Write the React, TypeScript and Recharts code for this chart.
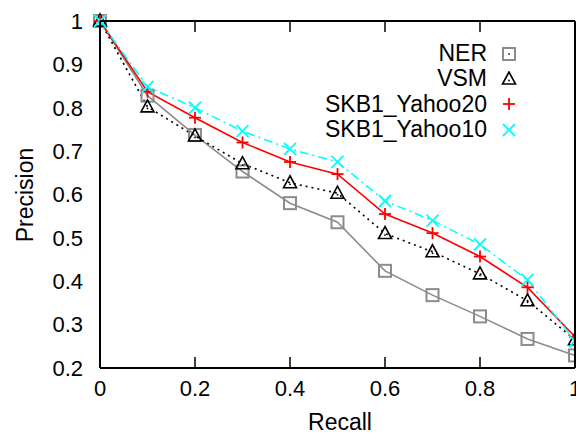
import { LineChart, Line, XAxis, YAxis } from 'recharts';

const recall = [0, 0.1, 0.2, 0.3, 0.4, 0.5, 0.6, 0.7, 0.8, 0.9, 1];
const ner = [1.0, 0.828, 0.737, 0.653, 0.58, 0.536, 0.424, 0.368, 0.319, 0.267, 0.229];
const vsm = [1.0, 0.802, 0.735, 0.671, 0.627, 0.603, 0.51, 0.468, 0.417, 0.355, 0.265];
const yahoo20 = [1.0, 0.837, 0.777, 0.72, 0.675, 0.647, 0.555, 0.511, 0.457, 0.386, 0.272];
const yahoo10 = [1.0, 0.848, 0.8, 0.746, 0.705, 0.675, 0.585, 0.54, 0.485, 0.403, 0.262];

const xTicks = [0, 0.2, 0.4, 0.6, 0.8, 1];
const yTicks = [0.2, 0.3, 0.4, 0.5, 0.6, 0.7, 0.8, 0.9, 1];

const data = recall.map((r, i) => ({
  recall: r,
  ner: ner[i],
  vsm: vsm[i],
  yahoo20: yahoo20[i],
  yahoo10: yahoo10[i],
}));

const FONT = '"Liberation Sans", Arial, sans-serif';
const MARGIN = { top: 20, right: 0, left: 0, bottom: 0 };

function Marker({ kind, cx, cy }: { kind: string; cx: number; cy: number }) {
  if (kind === 'square')
    return <rect x={cx - 6} y={cy - 6} width={12} height={12} fill="none" stroke="#8c8c8c" strokeWidth={2} />;
  if (kind === 'triangle')
    return (
      <g>
        <polygon points={`${cx},${cy - 7} ${cx - 6.5},${cy + 5} ${cx + 6.5},${cy + 5}`} fill="none" stroke="#000" strokeWidth={1.6} />
        <circle cx={cx} cy={cy + 1.5} r={0.9} fill="#000" />
      </g>
    );
  if (kind === 'plus')
    return (
      <g stroke="#ff0000" strokeWidth={1.8}>
        <line x1={cx - 6} y1={cy} x2={cx + 6} y2={cy} />
        <line x1={cx} y1={cy - 6} x2={cx} y2={cy + 6} />
      </g>
    );
  return (
    <g stroke="#00ffff" strokeWidth={1.8}>
      <line x1={cx - 6} y1={cy - 6} x2={cx + 6} y2={cy + 6} />
      <line x1={cx - 6} y1={cy + 6} x2={cx + 6} y2={cy - 6} />
    </g>
  );
}

const dotFor = (kind: string) => (p: any) => <Marker key={`${kind}-${p.index}`} kind={kind} cx={p.cx} cy={p.cy} />;

const legendItems = [
  { name: 'NER', kind: 'square' },
  { name: 'VSM', kind: 'triangle' },
  { name: 'SKB1_Yahoo20', kind: 'plus' },
  { name: 'SKB1_Yahoo10', kind: 'cross' },
];

const titleStyle: any = { position: 'absolute', fontFamily: FONT, fontSize: 23, lineHeight: 1, whiteSpace: 'nowrap', color: '#000' };

// the four axes of the gnuplot box; ticks point inward (negative tickSize)
function Axes({ labels }: { labels: boolean }) {
  const line = labels ? false : { stroke: '#000', strokeWidth: 2 };
  const tl = labels ? false : { stroke: '#000', strokeWidth: 1.5 };
  const lab = labels ? { fontSize: 22, fontFamily: FONT, fill: '#000' } : { fontSize: 0 };
  return [
    <XAxis key="b" dataKey="recall" type="number" domain={[0, 1]} ticks={xTicks} interval={0} height={66}
      tickSize={-11} tickMargin={labels ? 23 : 0} tickLine={tl} tick={lab} axisLine={line} />,
    <XAxis key="t" xAxisId="top" orientation="top" dataKey="recall" type="number" domain={[0, 1]} ticks={xTicks}
      interval={0} height={1} tickSize={-11} tickLine={tl} tick={{ fontSize: 0 }} axisLine={line} />,
    <YAxis key="l" type="number" domain={[0.2, 1]} ticks={yTicks} interval={0} width={100}
      tickSize={-11} tickMargin={labels ? 28 : 0} tickLine={tl} tick={lab} axisLine={line} />,
    <YAxis key="r" yAxisId="right" orientation="right" type="number" domain={[0.2, 1]} ticks={yTicks}
      interval={0} width={1} tickSize={-11} tickLine={tl} tick={{ fontSize: 0 }} axisLine={line} />,
  ];
}

export default function App() {
  return (
    <div style={{ position: 'relative', width: 576, height: 434 }}>
      <style>{`body{margin:0}`}</style>
      <LineChart width={576} height={434} data={data} margin={MARGIN}>
        {Axes({ labels: true })}
        <Line dataKey="ner" name="NER" stroke="#8c8c8c" strokeWidth={1.6} dot={dotFor('square')} isAnimationActive={false} />
        <Line dataKey="vsm" name="VSM" stroke="#000" strokeWidth={1.6} strokeDasharray="2 4" dot={dotFor('triangle')} isAnimationActive={false} />
        <Line dataKey="yahoo20" name="SKB1_Yahoo20" stroke="#ff0000" strokeWidth={1.6} dot={dotFor('plus')} isAnimationActive={false} />
        <Line dataKey="yahoo10" name="SKB1_Yahoo10" stroke="#00ffff" strokeWidth={1.6} strokeDasharray="9 4 2 4" dot={dotFor('cross')} isAnimationActive={false} />
      </LineChart>

      {/* frame and tick marks, drawn by a second chart with the same scales */}
      <div style={{ position: 'absolute', left: 0, top: 0, pointerEvents: 'none' }}>
        <LineChart width={576} height={434} data={data} margin={MARGIN}>
          {Axes({ labels: false })}
        </LineChart>
      </div>

      <div style={{ position: 'absolute', left: 240, top: 41, width: 277, fontFamily: FONT, fontSize: 23, color: '#000' }}>
        {legendItems.map((it) => (
          <div key={it.name} style={{ display: 'flex', justifyContent: 'flex-end', alignItems: 'center', height: 25.3 }}>
            <span>{it.name}</span>
            <svg width={16} height={16} style={{ marginLeft: 14 }}>
              {it.kind === 'square' ? (
                <g>
                  <rect x={2} y={2} width={12} height={12} fill="none" stroke="#8c8c8c" strokeWidth={2} />
                  <circle cx={8} cy={8} r={1} fill="#444" />
                </g>
              ) : (
                <Marker kind={it.kind} cx={8} cy={8} />
              )}
            </svg>
          </div>
        ))}
      </div>

      <div style={{ ...titleStyle, left: 25, top: 195, transform: 'translate(-50%, -50%) rotate(-90deg)' }}>Precision</div>
      <div style={{ ...titleStyle, left: 340, top: 422, transform: 'translate(-50%, -50%)' }}>Recall</div>
    </div>
  );
}
